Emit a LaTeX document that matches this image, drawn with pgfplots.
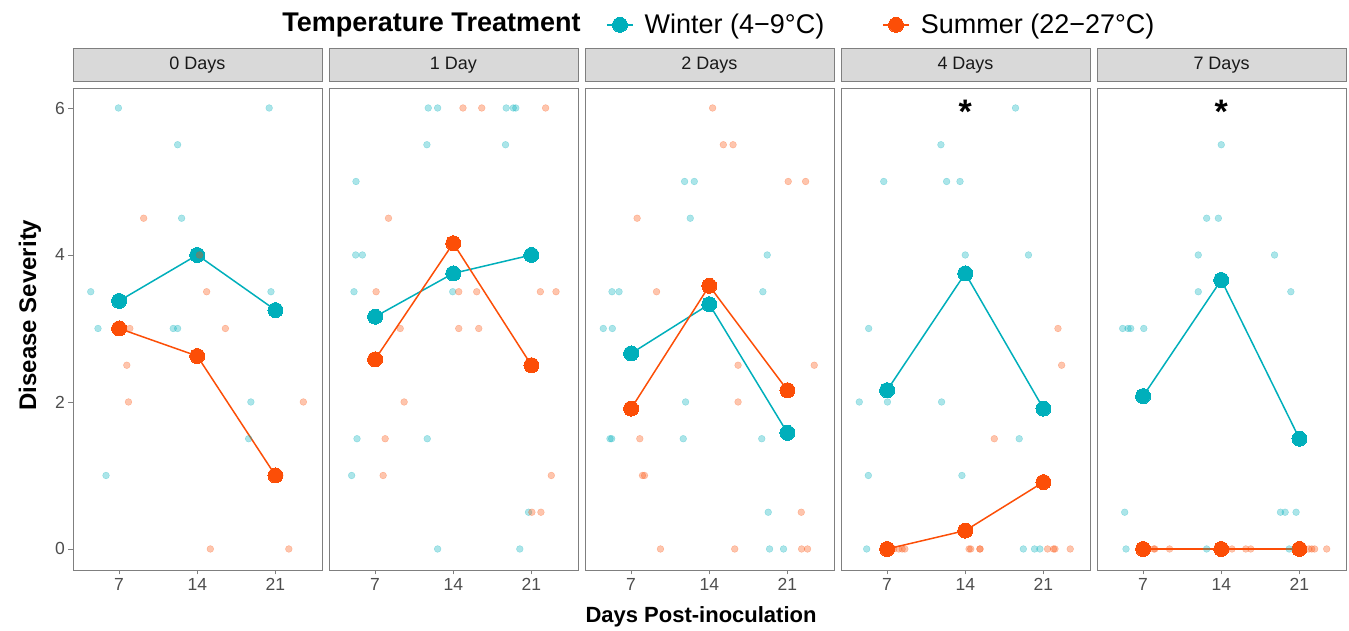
\documentclass[border=0pt]{standalone}
\usepackage{fontspec}
\setmainfont{Liberation Sans}
\usepackage{pgfplots}
\usepackage{pgfplotstable}
\pgfplotsset{compat=1.18}
\definecolor{win}{HTML}{00AFBB}
\definecolor{sum}{HTML}{FC4E07}
\definecolor{stripgray}{HTML}{D9D9D9}
\definecolor{bordergray}{HTML}{7F7F7F}
\definecolor{ticktext}{HTML}{4D4D4D}

% ---------- data ----------
\pgfplotstableread{
x y
6.94 6
20.44 6
12.24 5.5
12.6 4.5
4.46 3.5
20.6 3.5
5.11 3
11.85 3
12.24 3
18.8 2
18.6 1.5
5.83 1
}\wjA
\pgfplotstableread{
x y
9.2 4.5
14.2 4
14.84 3.5
7.96 3
16.52 3
7.69 2.5
7.84 2
23.5 2
21.4 1
15.17 0
22.2 0
}\sjA
\pgfplotstableread{
x y
7 3.375
14 4
21 3.25
}\wmA
\pgfplotstableread{
x y
7 3
14 2.625
21 1
}\smA

\pgfplotstableread{
x y
11.76 6
12.6 6
18.74 6
19.37 6
19.6 6
11.64 5.5
18.68 5.5
5.29 5
5.26 4
5.86 4
5.11 3.5
13.95 3.5
5.38 1.5
11.67 1.5
4.9 1
20.74 0.5
12.6 0
19.96 0
}\wjB
\pgfplotstableread{
x y
14.87 6
16.55 6
22.27 6
8.2 4.5
7.09 3.5
14.49 3.5
16.1 3.5
21.8 3.5
23.2 3.5
9.25 3
14.49 3
16.28 3
9.6 2
7.9 1.5
7.72 1
22.78 1
21.04 0.5
21.85 0.5
}\sjB
\pgfplotstableread{
x y
7 3.16
14 3.75
21 4
}\wmB
\pgfplotstableread{
x y
7 2.58
14 4.16
21 2.5
}\smB

\pgfplotstableread{
x y
11.79 5
12.66 5
12.3 4.5
19.19 4
5.29 3.5
5.92 3.5
18.8 3.5
4.51 3
5.32 3
11.88 2
5.11 1.5
5.26 1.5
11.67 1.5
18.7 1.5
19.28 0.5
19.4 0
20.65 0
}\wjC
\pgfplotstableread{
x y
14.3 6
15.26 5.5
16.13 5.5
21.07 5
22.63 5
7.54 4.5
9.28 3.5
16.58 2.5
23.4 2.5
16.58 2
7.78 1.5
8.02 1
8.2 1
22.24 0.5
9.63 0
16.28 0
22.27 0
22.8 0
}\sjC
\pgfplotstableread{
x y
7 2.66
14 3.33
21 1.58
}\wmC
\pgfplotstableread{
x y
7 1.91
14 3.58
21 2.16
}\smC

\pgfplotstableread{
x y
18.5 6
11.82 5.5
6.7 5
12.33 5
13.53 5
14.0 4
19.66 4
5.35 3
4.51 2
7.03 2
11.88 2
18.83 1.5
5.32 1
13.7 1
5.17 0
19.2 0
20.2 0
20.68 0
}\wjD
\pgfplotstableread{
x y
22.3 3
22.63 2.5
16.6 1.5
7.6 0
8.05 0
8.35 0
8.59 0
14.34 0
14.49 0
15.3 0
15.33 0
21.37 0
21.9 0
22.03 0
23.4 0
}\sjD
\pgfplotstableread{
x y
7 2.16
14 3.75
21 1.91
}\wmD
\pgfplotstableread{
x y
7 0
14 0.25
21 0.91
}\smD

\pgfplotstableread{
x y
14.0 5.5
12.69 4.5
13.74 4.5
11.94 4
18.77 4
11.94 3.5
20.23 3.5
5.17 3
5.65 3
5.89 3
7.06 3
5.35 0.5
19.3 0.5
19.72 0.5
20.7 0.5
5.47 0
12.69 0
20.08 0
}\wjE
\pgfplotstableread{
x y
7.96 0
8.05 0
9.37 0
14.96 0
16.19 0
16.64 0
21.85 0
22.1 0
22.36 0
23.44 0
}\sjE
\pgfplotstableread{
x y
7 2.08
14 3.66
21 1.5
}\wmE
\pgfplotstableread{
x y
7 0
14 0
21 0
}\smE

\pgfplotsset{
 panel/.style={
  scale only axis, width=249pt, height=482pt,
  anchor=south west,
  xmin=2.872, xmax=25.17, ymin=-0.286, ymax=6.272,
  xtick={7,14,21}, ytick={0,2,4,6},
  tick align=outside, xtick pos=bottom, ytick pos=left,
  major tick length=4.5pt,
  axis line style={bordergray, line width=0.9pt},
  every tick/.style={bordergray, line width=0.9pt},
  tick label style={font=\fontsize{17.5}{20}\selectfont, text=ticktext},
  /pgf/number format/assume math mode=true,
  clip=false,
  title style={at={(0.5,1)}, anchor=south, yshift=0pt, fill=stripgray, draw=bordergray,
    line width=0.9pt, minimum width=249pt, minimum height=33pt, inner sep=0pt,
    font=\fontsize{18}{21}\selectfont, text=black!90},
 },
 jw/.style={only marks, mark=*, mark size=3.4pt, color=win,
   mark options={fill opacity=0.33, draw opacity=0.33}, forget plot},
 js/.style={only marks, mark=*, mark size=3.4pt, color=sum,
   mark options={fill opacity=0.33, draw opacity=0.33}, forget plot},
 mw/.style={color=win, line width=1.5pt, mark=*, mark size=7.5pt,
   mark options={line width=0pt, fill=win}},
 ms/.style={color=sum, line width=1.5pt, mark=*, mark size=7.5pt,
   mark options={line width=0pt, fill=sum}},
}

\newcommand\drawpanel[4]{%
  \addplot[mw, forget plot] table {#3};
  \addplot[ms, forget plot] table {#4};
  \addplot[jw] table {#1};
  \addplot[js] table {#2};
}

\begin{document}
\begin{tikzpicture}
\useasboundingbox (0pt,0pt) rectangle (1349pt,631pt);

\begin{axis}[panel, at={(73pt,61pt)}, title={0 Days}]
\drawpanel{\wjA}{\sjA}{\wmA}{\smA}
\node[rotate=90, font=\bfseries\fontsize{24}{27}\selectfont] at (axis description cs:-0.1727,0.529) {Disease Severity};
\end{axis}

\begin{axis}[panel, at={(329pt,61pt)}, title={1 Day}, ytick=\empty]
\drawpanel{\wjB}{\sjB}{\wmB}{\smB}
\end{axis}

\begin{axis}[panel, at={(585pt,61pt)}, title={2 Days}, ytick=\empty,
  legend style={at={(axis description cs:0.0843,1.131)}, anchor=west, draw=none, fill=none,
    inner sep=0pt, legend columns=-1, font=\fontsize{27}{30}\selectfont,
    /tikz/every odd column/.append style={column sep=9pt},
    /tikz/every even column/.append style={column sep=56pt}},
  legend image code/.code={\draw[mark repeat=2,mark phase=2,#1] plot coordinates {(0pt,0pt) (13pt,0pt) (26pt,0pt)};}]
\addlegendimage{mw}
\addlegendentry{Winter (4−9°C)}
\addlegendimage{ms}
\addlegendentry{Summer (22−27°C)}
\drawpanel{\wjC}{\sjC}{\wmC}{\smC}
\node[font=\bfseries\fontsize{27}{30}\selectfont] at (axis description cs:-0.6165,1.131) {Temperature Treatment};
\node[font=\bfseries\fontsize{22}{26}\selectfont] at (axis description cs:0.466,-0.0975) {Days Post-inoculation};
\end{axis}

\begin{axis}[panel, at={(841pt,61pt)}, title={4 Days}, ytick=\empty]
\drawpanel{\wjD}{\sjD}{\wmD}{\smD}
\node[font=\bfseries\fontsize{34}{38}\selectfont] at (axis cs:14,6) [yshift=-4pt] {*};
\end{axis}

\begin{axis}[panel, at={(1097pt,61pt)}, title={7 Days}, ytick=\empty]
\drawpanel{\wjE}{\sjE}{\wmE}{\smE}
\node[font=\bfseries\fontsize{34}{38}\selectfont] at (axis cs:14,6) [yshift=-4pt] {*};
\end{axis}
\end{tikzpicture}
\end{document}
